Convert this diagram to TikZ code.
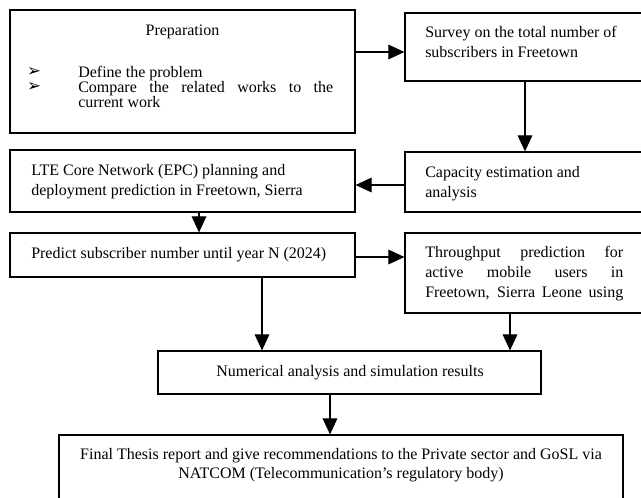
\documentclass[tikz,border=0pt]{standalone}
\usepackage{fontspec}
\setmainfont{Liberation Serif}
\newfontfamily\symfont{DejaVu Sans}
\usetikzlibrary{arrows.meta,fit,calc}
\hyphenpenalty=10000
\exhyphenpenalty=10000
\begin{document}
\begin{tikzpicture}[x=0.75pt,y=-0.75pt,
  box/.style={draw, line width=0.9pt, inner sep=0pt},
  arr/.style={line width=0.8pt, -{Triangle[length=12pt,width=11pt]}},
  txt/.style={inner sep=0pt, font=\fontsize{12}{15}\selectfont, align=left},
  bullet/.style={inner sep=0pt, font=\symfont\fontsize{12.5}{12.5}\selectfont}]
\useasboundingbox (0,0) rectangle (641,498);
\clip (0,0) rectangle (641,498);
\fill[white] (0,0) rectangle (641,498);
% boxes
\node[box, fit={(10,10) (355,133)}] (prep) {};
\node[box, fit={(405,13) (645,81)}] (survey) {};
\node[box, fit={(10,150) (355,212)}] (lte) {};
\node[box, fit={(405,152) (645,212)}] (capacity) {};
\node[box, fit={(10,233) (355,277)}] (predict) {};
\node[box, fit={(405,233) (645,313)}] (through) {};
\node[box, fit={(158,351) (541,394)}] (num) {};
\node[box, fit={(59,435) (623,505)}] (final) {};
% texts
\node[txt, anchor=base] (preptitle) at (182.5,36) {Preparation};
\node[bullet] (bul1) at (34,72) {➢};
\node[bullet] (bul2) at (34,87.5) {➢};
\node[txt, anchor=north west, text width=191.25pt, align=justify, font=\fontsize{12}{11.5}\selectfont] (preplist) at (78,65.5)
  {Define the problem\\Compare the related works to the\linebreak current work};
\node[txt, anchor=north west] (surveytxt) at (425,25.6) {Survey on the total number of\\subscribers in Freetown};
\node[txt, anchor=north west] (ltetxt) at (31,164.5) {LTE Core Network (EPC) planning and\\deployment prediction in Freetown, Sierra};
\node[txt, anchor=north west] (captxt) at (425,166) {Capacity estimation and\\analysis};
\node[txt, anchor=north west] (throughtxt) at (425,245.6)
  {\makebox[148.5pt][s]{Throughput prediction for}\\\makebox[148.5pt][s]{active mobile users in}\\\makebox[148.5pt][s]{Freetown, Sierra Leone using}};
\node[txt, anchor=base west] (predicttxt) at (31,259) {Predict subscriber number until year N (2024)};
\node[txt, anchor=base] (numtxt) at (350,376) {Numerical analysis and simulation results};
\node[txt, anchor=north, align=center, font=\fontsize{12}{14.25}\selectfont] (finaltxt) at (341,448.6)
  {Final Thesis report and give recommendations to the Private sector and GoSL via\\NATCOM (Telecommunication’s regulatory body)};
% connectors
\coordinate (y1) at (0,52);
\coordinate (y2) at (0,185);
\coordinate (x3) at (199,0);
\coordinate (y4) at (0,257);
\coordinate (x5) at (262,0);
\coordinate (x6) at (510,0);
\coordinate (x7) at (330,0);
\draw[arr] (prep.east |- y1) -- (survey.west |- y1);
\draw[arr] (survey.south) -- (capacity.north);
\draw[arr] (capacity.west |- y2) -- (lte.east |- y2);
\draw[arr] (lte.south -| x3) -- (predict.north -| x3);
\draw[arr] (predict.east |- y4) -- (through.west |- y4);
\draw[arr] (predict.south -| x5) -- (num.north -| x5);
\draw[arr] (through.south -| x6) -- (num.north -| x6);
\draw[arr] (num.south -| x7) -- (final.north -| x7);
\end{tikzpicture}
\end{document}
